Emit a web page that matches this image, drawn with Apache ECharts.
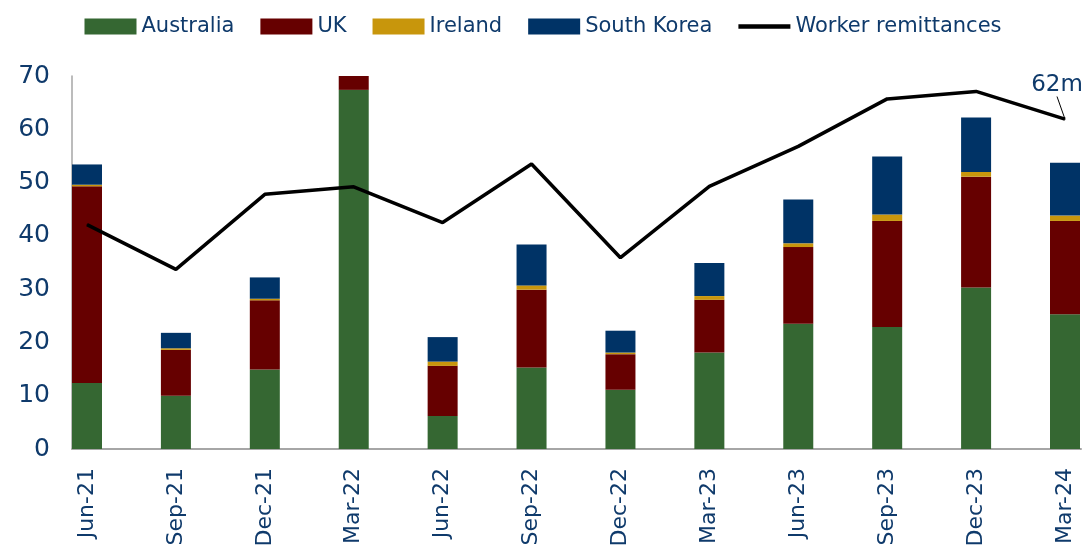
<!DOCTYPE html>
<html>
<head>
<meta charset="utf-8">
<script src="https://cdn.jsdelivr.net/npm/echarts@6/dist/echarts.min.js"></script>
<style>
html,body{margin:0;padding:0;background:#fff;}
#chart{width:1086px;height:555px;}
</style>
</head>
<body>
<div id="chart"></div>
<script>
// quarters
var quarters = ['Jun-21','Sep-21','Dec-21','Mar-22','Jun-22','Sep-22','Dec-22','Mar-23','Jun-23','Sep-23','Dec-23','Mar-24'];
// source countries, stacked bars
var australia  = [12.4, 10.0, 14.9, 67.4, 6.2, 15.3, 11.1, 18.1, 23.5, 22.9, 30.3, 25.3];
var uk         = [36.9, 8.6, 13.0, 2.6, 9.4, 14.6, 6.7, 9.9, 14.4, 19.9, 20.8, 17.5];
var ireland    = [0.3, 0.3, 0.3, 0, 0.8, 0.8, 0.3, 0.7, 0.7, 1.2, 0.9, 1.0];
var southKorea = [3.8, 2.9, 4.0, 0, 4.6, 7.7, 4.1, 6.2, 8.2, 10.9, 10.2, 9.9];
// total worker remittances (line)
var remittances = [42.1, 33.7, 47.8, 49.2, 42.5, 53.5, 35.9, 49.3, 56.8, 65.7, 67.1, 61.9];
var yTicks = [0, 10, 20, 30, 40, 50, 60, 70];

var navy = '#0f3a6b';
var font = 'DejaVu Sans';

var myChart = echarts.init(document.getElementById('chart'));

function barSeries(name, data, color){
	return {
		name: name,
		type: 'bar',
		stack: 'total',
		barWidth: 30,
		clip: false,
		itemStyle: {color: color},
		data: data
	};
}

var last = remittances.length - 1;
var lineData = remittances.map(function(v, i){
	if(i == last){
		return {
			value: v,
			label: {show: true, formatter: '62m', position: 'top', color: navy, fontSize: 23, fontFamily: font},
			labelLine: {show: true, lineStyle: {color: '#000', width: 1}}
		};
	}
	return v;
});

var option = {
	animation: false,
	legend: {
		top: 11,
		left: 'center',
		itemWidth: 52,
		itemHeight: 16,
		itemGap: 26,
		textStyle: {color: navy, fontSize: 21, fontFamily: font},
		data: [
			{name: 'Australia', icon: 'rect'},
			{name: 'UK', icon: 'rect'},
			{name: 'Ireland', icon: 'rect'},
			{name: 'South Korea', icon: 'rect'},
			{name: 'Worker remittances', icon: 'path://M0,0 L48,0 L48,4 L0,4 Z'}
		]
	},
	grid: [
		{left: 87, right: 21, top: 76, bottom: 106},
		{left: 72, right: 5, top: 76, bottom: 106}
	],
	xAxis: [
		{
			type: 'category',
			gridIndex: 0,
			boundaryGap: false,
			data: quarters,
			axisLine: {show: false},
			axisTick: {show: false},
			axisLabel: {rotate: 90, margin: 19, color: navy, fontSize: 22, fontFamily: font}
		},
		{
			type: 'category',
			gridIndex: 1,
			data: quarters,
			axisLine: {show: true, lineStyle: {color: '#a6a6a6', width: 2}},
			axisTick: {show: false},
			axisLabel: {show: false}
		}
	],
	yAxis: [
		{
			type: 'value',
			gridIndex: 0,
			min: yTicks[0],
			max: yTicks[yTicks.length - 1],
			interval: 10,
			offset: 15,
			splitLine: {show: false},
			axisLine: {show: true, lineStyle: {color: '#a6a6a6', width: 1.5}},
			axisTick: {show: false},
			axisLabel: {margin: 22, color: navy, fontSize: 25, fontFamily: font}
		},
		{type: 'value', gridIndex: 1, show: false, min: 0, max: 70}
	],
	series: [
		barSeries('Australia', australia, '#356732'),
		barSeries('UK', uk, '#660000'),
		barSeries('Ireland', ireland, '#c8960c'),
		barSeries('South Korea', southKorea, '#003366'),
		{
			name: 'Worker remittances',
			type: 'line',
			symbol: 'circle',
			symbolSize: 1,
			showAllSymbol: true,
			clip: false,
			lineStyle: {color: '#000', width: 3.5},
			itemStyle: {color: '#000'},
			labelLayout: function(params){
				if(params.dataIndex == last){
					return {x: 1057, y: 85, align: 'center', verticalAlign: 'middle'};
				}
			},
			data: lineData
		}
	]
};
myChart.setOption(option);
</script>
</body>
</html>
